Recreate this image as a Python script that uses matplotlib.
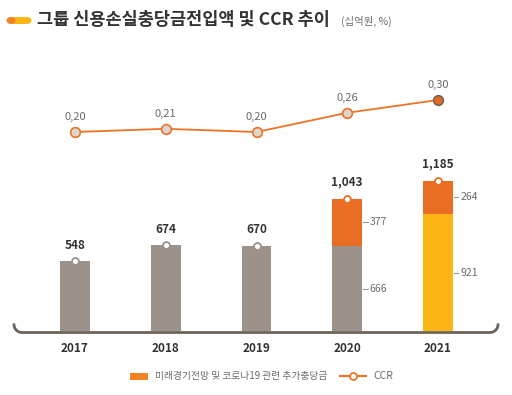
import numpy as np
import matplotlib.pyplot as plt
from matplotlib.patches import FancyBboxPatch, Rectangle, Circle
from matplotlib.lines import Line2D

plt.rcParams['font.family'] = ['Noto Sans CJK KR', 'DejaVu Sans']

# data
years = ['2017', '2018', '2019', '2020', '2021']
base = [548, 674, 670, 666, 0]
base_2021 = [0, 0, 0, 0, 921]
extra = [0, 0, 0, 377, 264]
totals = [548, 674, 670, 1043, 1185]
ccr = [0.20, 0.21, 0.20, 0.26, 0.30]
ccr_labels = ['0,20', '0,21', '0,20', '0,26', '0,30']

gray = '#9c9289'
orange = '#e96d23'
yellow = '#fbb615'
line_c = '#ee7226'
txt = '#333333'
sub = '#6a6a6a'

W, H = 512, 395
fig = plt.figure(figsize=(W / 100, H / 100), dpi=100)

# axes: baseline at y=331px, top at y=60px
ax = fig.add_axes([0, (H - 331) / H, 1, 271 / H])
ax.set_xlim(-75 / 90.75, (W - 75) / 90.75)
ax.set_ylim(0, 271 / 0.127)
ax.axis('off')

x = np.arange(len(years))
bw = 0.33
ax.bar(x, base, bw, color=gray, zorder=2)
ax.bar(x, base_2021, bw, color=yellow, zorder=2)
bottoms = np.array(base) + np.array(base_2021)
ax.bar(x, extra, bw, bottom=bottoms, color=orange, zorder=2)

for i, t in enumerate(totals):
    ec = orange if extra[i] else gray
    ax.plot(x[i], t, 'o', ms=5, mfc='white', mec=ec, mew=1.3, zorder=4)
    ax.annotate(f'{t:,}', (x[i], t), xytext=(0, 7), textcoords='offset points',
                ha='center', va='bottom', fontsize=8.5, fontweight='bold', color=txt)
    ax.annotate(years[i], (x[i], 0), xytext=(0, -8), textcoords='offset points',
                ha='center', va='top', fontsize=8.5, fontweight='bold', color=txt)

# segment labels for 2020, 2021
for i in [3, 4]:
    segs = [(0, base[i] + base_2021[i]), (bottoms[i], extra[i])]
    for b0, v in segs:
        ym = b0 + v / 2
        x0 = x[i] + bw / 2
        ax.plot([x0 + 0.01, x0 + 0.06], [ym, ym], color='#999999', lw=0.8, zorder=3)
        ax.text(x0 + 0.08, ym, f'{v:,}', ha='left', va='center', fontsize=7.5, color=sub)

# bracket axis line
px = 1 / W
py = 1 / 271
r = 8
th = np.linspace(0, np.pi / 2, 20)
lx = 14 + r - r * np.sin(th)
ly = r - r * np.cos(th)
bx = np.concatenate([lx[::-1], [14 + r, W - 14 - r], W - 14 - r + r * np.sin(th)])
by = np.concatenate([ly[::-1], [0, 0], ly])
ax.plot(bx * px, -1.5 * py + by * py, color='#6d625a', lw=2, transform=ax.transAxes,
        solid_capstyle='round', clip_on=False, zorder=5)

# CCR line
ax2 = ax.twinx()
vmin = 0.20 - 199 / 320
ax2.set_ylim(vmin, vmin + 271 / 320)
ax2.axis('off')
ax2.plot(x, ccr, color=line_c, lw=1.3, zorder=3)
ax2.plot(x[:-1], ccr[:-1], 'o', ms=7, mfc='#dcd6d0', mec=line_c, mew=1.2, zorder=4)
ax2.plot(x[-1], ccr[-1], 'o', ms=7, mfc='#df6a22', mec='#6d625a', mew=1.1, zorder=4)
for i, v in enumerate(ccr):
    ax2.annotate(ccr_labels[i], (x[i], v), xytext=(0, 7), textcoords='offset points',
                 ha='center', va='bottom', fontsize=8, color=sub)

# title
fig.patches.append(FancyBboxPatch((11 / W, (H - 24) / H), 16 / W, 7 / H,
                                  boxstyle='round,pad=0,rounding_size=0.0068',
                                  fc='#fbb615', ec='none', transform=fig.transFigure))
fig.patches.append(Circle((11 / W, (H - 20.5) / H), 3.5 / H, fc='#f0802a', ec='none',
                          transform=fig.transFigure))
fig.patches.append(Circle((27 / W, (H - 20.5) / H), 3.5 / H, fc='#fbb615', ec='none',
                          transform=fig.transFigure))
fig.text(37 / W, (H - 20) / H, '그룹 신용손실충당금전입액 및 CCR 추이', fontsize=12.6,
         fontweight='bold', color=txt, va='center', ha='left')
fig.text(341 / W, (H - 21) / H, '(십억원, %)', fontsize=7.5, color=sub, va='center', ha='left')

# legend
fig.patches.append(Rectangle((130 / W, (H - 380) / H), 18 / W, 7 / H, fc='#f48322',
                             ec='none', transform=fig.transFigure))
fig.text(155 / W, (H - 376) / H, '미래경기전망 및 코로나19 관련 추가충당금', fontsize=7,
         color=sub, va='center', ha='left')
fig.lines.append(Line2D([340 / W, 366 / W], [(H - 376) / H] * 2, color=line_c, lw=1.5,
                        transform=fig.transFigure))
fig.lines.append(Line2D([353 / W], [(H - 376) / H], marker='o', ms=5, mfc='white',
                        mec=line_c, mew=1.3, transform=fig.transFigure))
fig.text(373 / W, (H - 376) / H, 'CCR', fontsize=7.5, color=sub, va='center', ha='left')

fig.savefig('out.png', dpi=100)
